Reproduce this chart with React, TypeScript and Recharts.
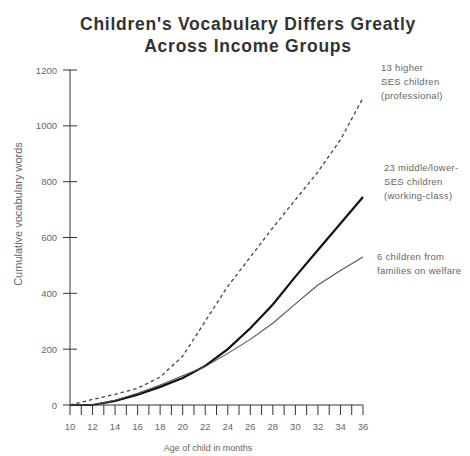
import React from 'react';
import { LineChart, Line, XAxis, YAxis } from 'recharts';

const months = [10, 12, 14, 16, 18, 20, 22, 24, 26, 28, 30, 32, 34, 36];
const professional = [0, 20, 38, 60, 100, 175, 300, 425, 530, 635, 735, 835, 950, 1100];
const workingClass = [0, 0, 15, 37, 65, 97, 140, 200, 275, 360, 460, 555, 650, 745];
const welfare = [0, 0, 17, 42, 72, 105, 138, 185, 235, 293, 362, 430, 482, 530];

const monthTicks = [10, 11, 12, 13, 14, 15, 16, 17, 18, 19, 20, 21, 22, 23, 24, 25, 26, 27, 28, 29, 30, 31, 32, 33, 34, 35, 36];
const wordTicks = [0, 200, 400, 600, 800, 1000, 1200];

const titleLines = ["Children's Vocabulary Differs Greatly", 'Across Income Groups'];
const proLabel = ['13 higher', 'SES children', '(professional)'];
const workLabel = ['23 middle/lower-', 'SES children', '(working-class)'];
const welfareLabel = ['6 children from', 'families on welfare'];

const data = months.map((m, i) => ({
  month: m,
  professional: professional[i],
  working: workingClass[i],
  welfare: welfare[i],
}));

const FONT = '"Liberation Sans", Arial, Helvetica, sans-serif';
const AXIS_X = 70;
const TEXT = '#666';

function YTick(props: any) {
  const { y, payload } = props;
  return (
    <g>
      <line x1={AXIS_X - 7} x2={AXIS_X + 7} y1={y} y2={y} stroke="#333" strokeWidth={1} />
      <text x={AXIS_X - 13} y={y} textAnchor="end" dominantBaseline="central" fontSize={9.5} fill={TEXT} fontFamily={FONT}>
        {payload.value}
      </text>
    </g>
  );
}

function Note({ lines, x, y }: { lines: string[]; x: number; y: number }) {
  return (
    <text x={x} y={y} fontSize={9.5} letterSpacing={0.3} fill={TEXT} fontFamily={FONT}>
      {lines.map((l, i) => (
        <tspan key={i} x={x} dy={i === 0 ? 0 : 14}>{l}</tspan>
      ))}
    </text>
  );
}

export default function App() {
  return (
    <div style={{ position: 'absolute', left: 0, top: 0, width: 470, height: 456, background: '#fff' }}>
      <LineChart width={470} height={456} data={data} margin={{ top: 70, right: 107, bottom: 21, left: 0 }}>
        <XAxis
          dataKey="month"
          type="number"
          domain={[10, 36]}
          ticks={monthTicks}
          interval={0}
          tickSize={10}
          tickMargin={8}
          tickFormatter={(v: number) => (v % 2 === 0 ? String(v) : '')}
          tick={{ fontSize: 9.5, fill: TEXT, fontFamily: FONT }}
          axisLine={{ stroke: '#333' }}
          tickLine={{ stroke: '#333' }}
          height={30}
        />
        <YAxis
          type="number"
          domain={[0, 1200]}
          ticks={wordTicks}
          interval={0}
          width={70}
          tickLine={false}
          tick={<YTick />}
          axisLine={{ stroke: '#333' }}
        />
        <Line type="linear" dataKey="professional" stroke="#444" strokeWidth={1.3} strokeDasharray="3.5 3" dot={false} isAnimationActive={false} />
        <Line type="linear" dataKey="working" stroke="#111" strokeWidth={2.2} dot={false} isAnimationActive={false} />
        <Line type="linear" dataKey="welfare" stroke="#555" strokeWidth={1.1} dot={false} isAnimationActive={false} />
      </LineChart>
      <svg width={470} height={456} style={{ position: 'absolute', left: 0, top: 0, pointerEvents: 'none' }}>
        <text x={248} y={30} textAnchor="middle" fontSize={17.5} fontWeight="bold" letterSpacing={0.75} fill="#333" fontFamily={FONT}>
          {titleLines[0]}
        </text>
        <text x={248} y={52} textAnchor="middle" fontSize={17.5} fontWeight="bold" letterSpacing={0.75} fill="#333" fontFamily={FONT}>
          {titleLines[1]}
        </text>
        <text
          x={18}
          y={214}
          transform="rotate(-90 18 214)"
          textAnchor="middle"
          dominantBaseline="central"
          fontSize={11}
          fill={TEXT}
          fontFamily={FONT}
        >
          Cumulative vocabulary words
        </text>
        <text x={208} y={451} textAnchor="middle" fontSize={9} fill={TEXT} fontFamily={FONT}>
          Age of child in months
        </text>
        <Note lines={proLabel} x={381} y={71} />
        <Note lines={workLabel} x={384} y={171} />
        <Note lines={welfareLabel} x={377} y={260} />
      </svg>
    </div>
  );
}
